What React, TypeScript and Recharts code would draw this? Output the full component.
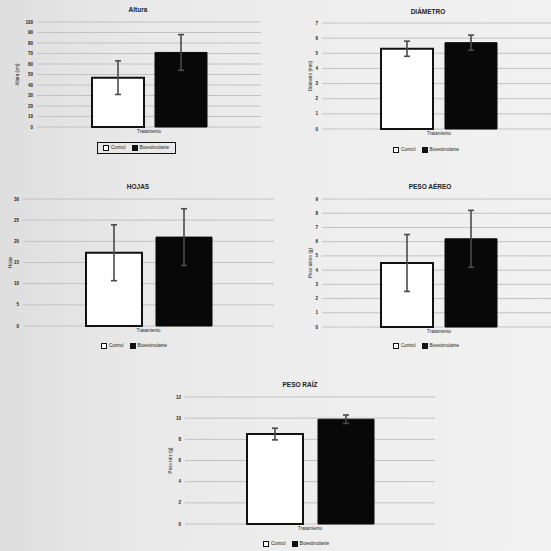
import { Bar, BarChart, CartesianGrid, ErrorBar, XAxis, YAxis } from "recharts"

// Shared category and series
const category = "Tratamiento"
const seriesNames = ["Control", "Bioestimulante"]

// One entry per panel: Altura, Diámetro, Hojas, Peso aéreo, Peso raíz
const panelTitles = ["Altura", "DIÁMETRO", "HOJAS", "PESO AÉREO", "PESO RAÍZ"]
const yAxisLabels = ["Altura (cm)", "Diámetro (mm)", "Hojas", "Peso aéreo (g)", "Peso raíz (g)"]
const controlMeans = [47, 5.3, 17.3, 4.5, 8.5]
const controlErrors = [16, 0.5, 6.6, 2.0, 0.55]
const bioMeans = [71, 5.7, 21, 6.2, 9.9]
const bioErrors = [17, 0.5, 6.7, 2.0, 0.4]
const yTicks = [
  [0, 10, 20, 30, 40, 50, 60, 70, 80, 90, 100],
  [0, 1, 2, 3, 4, 5, 6, 7],
  [0, 5, 10, 15, 20, 25, 30],
  [0, 1, 2, 3, 4, 5, 6, 7, 8, 9],
  [0, 2, 4, 6, 8, 10, 12],
]

// plot box (left, right, top, bottom), axis width, bar sizing, title and legend spots
const layout = [
  { pl: 37, pr: 261, pt: 22, pb: 127, yw: 22, bar: 52, gap: 11, tx: 138, ty: 6, lx: 97, ly: 142, boxed: true },
  { pl: 322, pr: 556, pt: 23, pb: 129, yw: 14, bar: 52, gap: 12, tx: 428, ty: 8, lx: 393, ly: 147, boxed: false },
  { pl: 23, pr: 274, pt: 199, pb: 326, yw: 15, bar: 56, gap: 14, tx: 138, ty: 183, lx: 101, ly: 343, boxed: false },
  { pl: 322, pr: 556, pt: 199, pb: 327, yw: 14, bar: 52, gap: 12, tx: 430, ty: 183, lx: 393, ly: 343, boxed: false },
  { pl: 185, pr: 435, pt: 397, pb: 524, yw: 17, bar: 56, gap: 15, tx: 300, ty: 381, lx: 263, ly: 541, boxed: false },
]

const FONT = "'Liberation Sans', Arial, sans-serif"
const INK = "#222"

function Legend({ x, y, boxed }: { x: number; y: number; boxed: boolean }) {
  return (
    <div
      style={{
        position: "absolute",
        left: x,
        top: y,
        display: "flex",
        alignItems: "center",
        gap: 6,
        padding: boxed ? "2px 6px 2px 5px" : 0,
        border: boxed ? "1.5px solid #111" : "none",
        fontFamily: FONT,
        fontSize: 4.5,
        color: INK,
        lineHeight: "6px",
      }}
    >
      {seriesNames.map((name, k) => (
        <span key={name} style={{ display: "flex", alignItems: "center", gap: 2 }}>
          <span
            style={{
              width: 4,
              height: 4,
              background: k === 0 ? "#fff" : "#111",
              border: "1.5px solid #111",
            }}
          />
          {name}
        </span>
      ))}
    </div>
  )
}

function Panel({ i }: { i: number }) {
  const b = layout[i]
  const mt = 8
  const mr = 2
  const xh = 14
  const width = b.pr - b.pl + b.yw + mr
  const height = b.pb - b.pt + mt + xh
  const ticks = yTicks[i]
  const data = [
    {
      name: category,
      control: controlMeans[i],
      controlErr: controlErrors[i],
      bio: bioMeans[i],
      bioErr: bioErrors[i],
    },
  ]

  return (
    <>
      <div
        style={{
          position: "absolute",
          left: b.tx,
          top: b.ty,
          transform: "translateX(-50%)",
          fontFamily: FONT,
          fontSize: 6.5,
          fontWeight: 700,
          color: INK,
          whiteSpace: "nowrap",
        }}
      >
        {panelTitles[i]}
      </div>
      <div style={{ position: "absolute", left: b.pl - b.yw, top: b.pt - mt }}>
        <BarChart
          width={width}
          height={height}
          data={data}
          margin={{ top: mt, right: mr, bottom: 0, left: 0 }}
          barSize={b.bar}
          barGap={b.gap}
          style={{ fontFamily: FONT }}
        >
          <CartesianGrid vertical={false} stroke="#c2c2c2" strokeWidth={1} />
          <XAxis
            dataKey="name"
            height={xh}
            axisLine={false}
            tickLine={false}
            tickSize={2}
            tickMargin={1}
            tick={{ fontSize: 4.5, fill: INK }}
          />
          <YAxis
            width={b.yw}
            domain={[ticks[0], ticks[ticks.length - 1]]}
            ticks={ticks}
            interval={0}
            axisLine={false}
            tickLine={false}
            tickSize={2}
            tickMargin={2}
            tick={{ fontSize: 4.5, fill: INK, fontWeight: 700 }}
            label={{
              value: yAxisLabels[i],
              angle: -90,
              position: "insideLeft",
              offset: 2,
              style: { textAnchor: "middle", fontSize: 4.5, fill: INK },
            }}
          />
          <Bar dataKey="control" name={seriesNames[0]} fill="#ffffff" stroke="#111" strokeWidth={2} isAnimationActive={false}>
            <ErrorBar dataKey="controlErr" width={3} stroke="#4a4a4a" strokeWidth={1.6} />
          </Bar>
          <Bar dataKey="bio" name={seriesNames[1]} fill="#080808" stroke="#080808" strokeWidth={1} isAnimationActive={false}>
            <ErrorBar dataKey="bioErr" width={3} stroke="#4a4a4a" strokeWidth={1.6} />
          </Bar>
        </BarChart>
      </div>
      <Legend x={b.lx} y={b.ly} boxed={b.boxed} />
    </>
  )
}

export default function App() {
  return (
    <div
      style={{
        position: "absolute",
        left: 0,
        top: 0,
        width: 551,
        height: 551,
        overflow: "hidden",
        background: "linear-gradient(90deg, #dedede 0%, #e9e9e9 25%, #eeeeee 60%, #f1f1f1 100%)",
      }}
    >
      {panelTitles.map((_, i) => (
        <Panel key={i} i={i} />
      ))}
    </div>
  )
}
